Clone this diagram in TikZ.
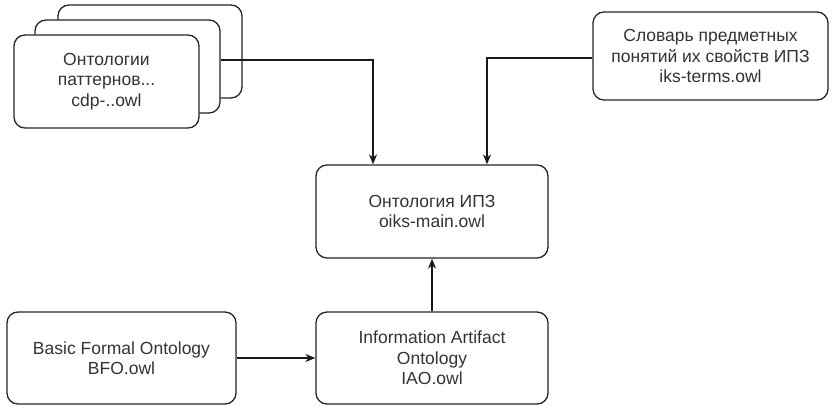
\documentclass[tikz,border=0pt]{standalone}
\usepackage{fontspec}
\setmainfont{Liberation Sans}
\usetikzlibrary{arrows.meta,calc}
\begin{document}
\begin{tikzpicture}[x=1pt,y=-1pt,
  box/.style={draw=black!85,line width=1.3pt,rounded corners=11pt,fill=white,
    inner sep=0pt,align=center,text=black!80,
    font=\fontsize{17.5}{20.3}\selectfont},
  conn/.style={draw=black!90,line width=1.3pt},
  arr/.style={conn,-{Stealth[length=10pt,width=8pt]}}]
\path[use as bounding box,fill=white] (0,0) rectangle (832,411);
\node[box,minimum width=184pt,minimum height=93pt] (back) at (150,51.5) {};
\node[box,minimum width=185pt,minimum height=93pt] (mid) at (127.5,66.5) {};
\node[box,minimum width=185pt,minimum height=93pt] (front) at (106.5,81.5) {Онтологии\\паттернов...\\cdp-..owl};
\node[box,minimum width=235pt,minimum height=88pt] (dict) at (710.5,56) {Словарь предметных\\понятий их свойств ИПЗ\\iks-terms.owl};
\node[box,minimum width=232pt,minimum height=93pt] (main) at (432,211.5) {Онтология ИПЗ\\oiks-main.owl};
\node[box,minimum width=229pt,minimum height=92pt] (bfo) at (121.5,358) {Basic Formal Ontology\\BFO.owl};
\node[box,minimum width=232pt,minimum height=92pt] (iao) at (432,358) {Information Artifact\\Ontology\\IAO.owl};
\coordinate (m1) at ($(mid.east)+(0,-6.5)$);
\coordinate (d1) at ($(dict.west)+(0,2)$);
\draw[arr] (m1) -| ($(main.north)+(-59,0)$);
\draw[arr] (d1) -| ($(main.north)+(55,0)$);
\draw[arr] (bfo) -- (iao);
\draw[arr] (iao) -- (main);
\end{tikzpicture}
\end{document}
